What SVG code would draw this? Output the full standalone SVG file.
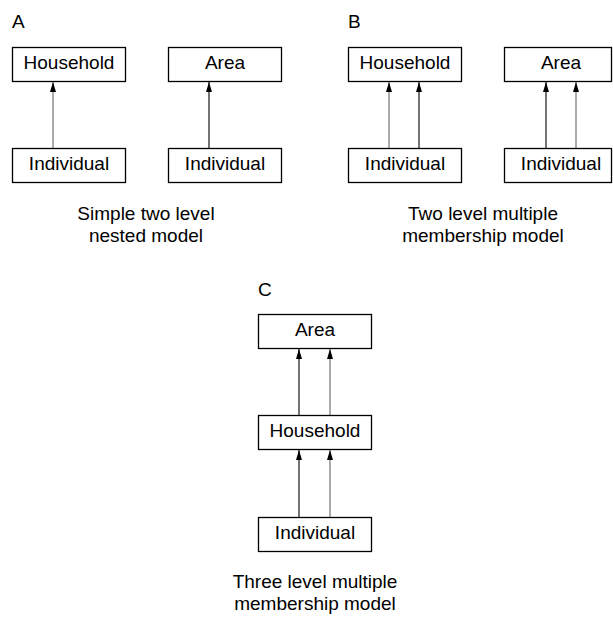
<svg xmlns="http://www.w3.org/2000/svg" width="613" height="617" viewBox="0 0 613 617">
<style>
.box{fill:#fff;stroke:#000;stroke-width:1.3}
.t{font-family:"Liberation Sans",Arial,sans-serif;font-size:19px;fill:#000;text-anchor:middle}
.lab{font-family:"Liberation Sans",Arial,sans-serif;font-size:19px;fill:#000}
.c{stroke:#000;stroke-width:1.1;fill:none;marker-end:url(#ah)}
.g{stroke:#666}
</style>
<defs>
<marker id="ah" viewBox="0 0 10 6" refX="10" refY="3" markerWidth="10" markerHeight="6" markerUnits="userSpaceOnUse" orient="auto">
<path d="M0,0 L10,3 L0,6 Z" fill="#000"/>
</marker>
</defs>
<rect width="613" height="617" fill="#fff"/>
<g id="labels">
<text class="lab" x="12" y="28">A</text>
<text class="lab" x="348" y="28">B</text>
<text class="lab" x="258" y="296">C</text>
<text class="t" x="146" y="220">Simple two level</text>
<text class="t" x="146" y="242">nested model</text>
<text class="t" x="483" y="220">Two level multiple</text>
<text class="t" x="483" y="242">membership model</text>
<text class="t" x="315" y="588">Three level multiple</text>
<text class="t" x="315" y="610">membership model</text>
</g>
<g id="connectors">
<line class="c g" x1="53" y1="148" x2="53" y2="82"/>
<line class="c" x1="209" y1="148" x2="209" y2="82"/>
<line class="c g" x1="389" y1="148" x2="389" y2="82"/>
<line class="c" x1="419" y1="148" x2="419" y2="82"/>
<line class="c" x1="546" y1="148" x2="546" y2="82"/>
<line class="c g" x1="576" y1="148" x2="576" y2="82"/>
<line class="c" x1="299" y1="415" x2="299" y2="349"/>
<line class="c g" x1="330" y1="415" x2="330" y2="349"/>
<line class="c" x1="299" y1="517" x2="299" y2="450"/>
<line class="c g" x1="330" y1="517" x2="330" y2="450"/>
</g>
<g id="a-household"><rect class="box" x="12.5" y="47.5" width="113" height="34"/><text class="t" x="69" y="69">Household</text></g>
<g id="a-area"><rect class="box" x="168.5" y="47.5" width="113" height="34"/><text class="t" x="225" y="69">Area</text></g>
<g id="a-individual1"><rect class="box" x="12.5" y="148.5" width="113" height="34"/><text class="t" x="69" y="170">Individual</text></g>
<g id="a-individual2"><rect class="box" x="168.5" y="148.5" width="113" height="34"/><text class="t" x="225" y="170">Individual</text></g>
<g id="b-household"><rect class="box" x="348.5" y="47.5" width="113" height="34"/><text class="t" x="405" y="69">Household</text></g>
<g id="b-area"><rect class="box" x="504.5" y="47.5" width="107" height="34"/><text class="t" x="561" y="69">Area</text></g>
<g id="b-individual1"><rect class="box" x="348.5" y="148.5" width="113" height="34"/><text class="t" x="405" y="170">Individual</text></g>
<g id="b-individual2"><rect class="box" x="504.5" y="148.5" width="107" height="34"/><text class="t" x="561" y="170">Individual</text></g>
<g id="c-area"><rect class="box" x="258.5" y="314.5" width="113" height="34"/><text class="t" x="315" y="336">Area</text></g>
<g id="c-household"><rect class="box" x="258.5" y="415.5" width="113" height="34"/><text class="t" x="315" y="437">Household</text></g>
<g id="c-individual"><rect class="box" x="258.5" y="517.5" width="113" height="34"/><text class="t" x="315" y="539">Individual</text></g>
</svg>
